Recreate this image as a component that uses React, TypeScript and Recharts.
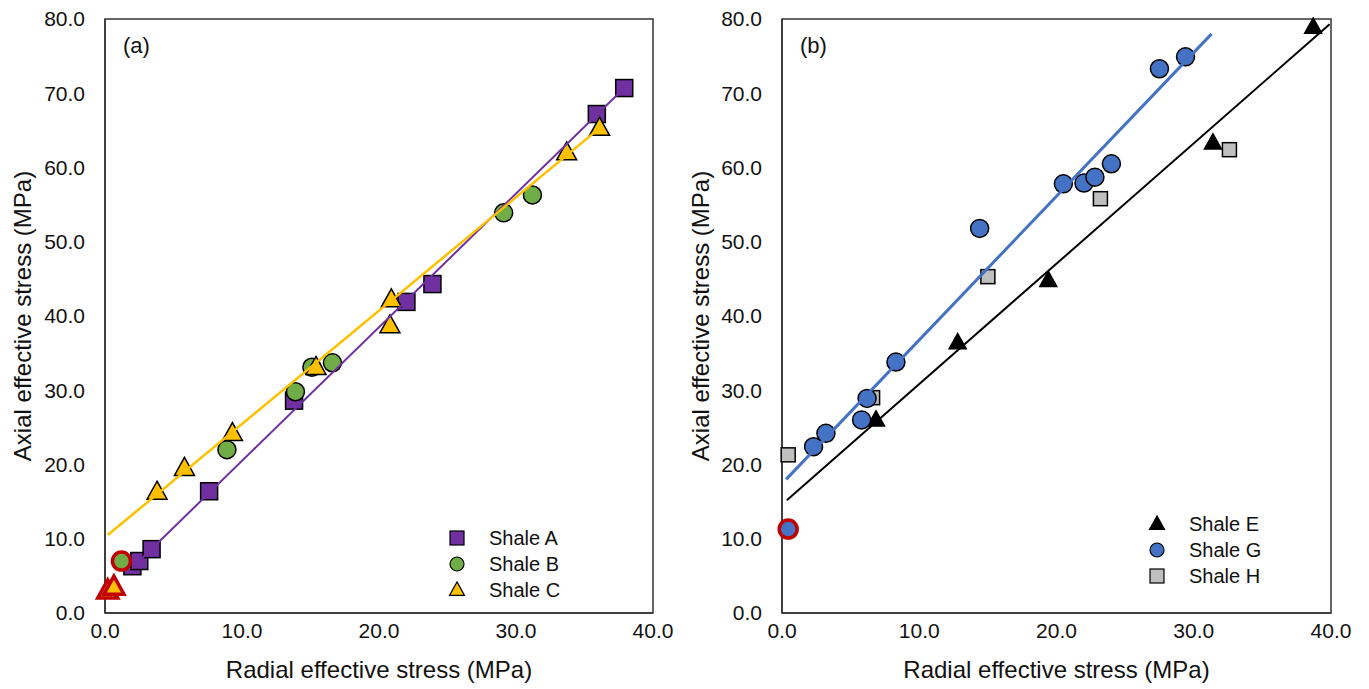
import React from 'react';
import { ScatterChart, Scatter, XAxis, YAxis, ReferenceArea } from 'recharts';

const xTicks = [0, 10, 20, 30, 40];
const yTicks = [0, 10, 20, 30, 40, 50, 60, 70, 80];

// panel (a)
const shaleA = [
  { x: 2.0, y: 6.3 }, { x: 2.5, y: 7.0 }, { x: 3.4, y: 8.6 }, { x: 7.6, y: 16.4 },
  { x: 13.8, y: 28.6 }, { x: 22.0, y: 41.9 }, { x: 23.9, y: 44.3 }, { x: 35.9, y: 67.2 },
  { x: 37.9, y: 70.7 },
];
const shaleB = [
  { x: 8.9, y: 22.0 }, { x: 13.9, y: 29.8 }, { x: 15.1, y: 33.1 }, { x: 16.6, y: 33.7 },
  { x: 29.1, y: 53.9 }, { x: 31.2, y: 56.3 },
];
const shaleBRed = [{ x: 1.2, y: 7.0 }];
const shaleC = [
  { x: 3.8, y: 16.3 }, { x: 5.8, y: 19.5 }, { x: 9.3, y: 24.2 }, { x: 15.4, y: 33.1 },
  { x: 20.8, y: 38.7 }, { x: 20.9, y: 42.2 }, { x: 33.7, y: 62.0 }, { x: 36.1, y: 65.3 },
];
const shaleCRed = [{ x: 0.2, y: 3.0 }, { x: 0.65, y: 3.5 }];
const fitA = [{ x: 2.5, y: 7.0 }, { x: 37.9, y: 70.7 }];
const fitC = [{ x: 0.2, y: 10.5 }, { x: 36.1, y: 65.3 }];

// panel (b)
const shaleE = [
  { x: 6.85, y: 26.0 }, { x: 12.8, y: 36.4 }, { x: 19.4, y: 44.8 }, { x: 31.4, y: 63.3 },
  { x: 38.7, y: 78.9 },
];
const shaleG = [
  { x: 2.3, y: 22.4 }, { x: 3.2, y: 24.2 }, { x: 5.8, y: 26.0 }, { x: 6.2, y: 28.9 },
  { x: 8.3, y: 33.8 }, { x: 14.4, y: 51.8 }, { x: 20.5, y: 57.8 }, { x: 22.0, y: 57.9 },
  { x: 22.8, y: 58.7 }, { x: 24.0, y: 60.5 }, { x: 27.5, y: 73.3 }, { x: 29.4, y: 74.9 },
];
const shaleGRed = [{ x: 0.45, y: 11.3 }];
const shaleH = [
  { x: 0.45, y: 21.3 }, { x: 6.6, y: 29.0 }, { x: 15.0, y: 45.3 }, { x: 23.2, y: 55.8 },
  { x: 32.6, y: 62.4 },
];
const fitG = [{ x: 0.3, y: 18.0 }, { x: 31.3, y: 78.0 }];
const fitE = [{ x: 0.35, y: 15.2 }, { x: 39.9, y: 79.3 }];

const legendA = [
  { name: 'Shale A', kind: 'square', fill: '#7030A0' },
  { name: 'Shale B', kind: 'circle', fill: '#70AD47' },
  { name: 'Shale C', kind: 'triangle', fill: '#FFC000' },
];
const legendB = [
  { name: 'Shale E', kind: 'triangle', fill: '#000000' },
  { name: 'Shale G', kind: 'circle', fill: '#4472C4' },
  { name: 'Shale H', kind: 'square', fill: '#BFBFBF' },
];

const FONT = '"Liberation Sans", Arial, sans-serif';
const AXIS = '#333333';
const TEXT = '#111111';

type MarkerProps = {
  kind: string;
  cx: number;
  cy: number;
  size: number;
  fill: string;
  stroke?: string;
  strokeWidth?: number;
};

const Marker = ({ kind, cx, cy, size, fill, stroke = '#000', strokeWidth = 1.5 }: MarkerProps) => {
  const h = size / 2;
  if (kind === 'square') {
    return <rect x={cx - h} y={cy - h} width={size} height={size} fill={fill} stroke={stroke} strokeWidth={strokeWidth} />;
  }
  if (kind === 'circle') {
    return <circle cx={cx} cy={cy} r={h} fill={fill} stroke={stroke} strokeWidth={strokeWidth} />;
  }
  const th = size * 0.9;
  const pts = `${cx},${cy - th * 0.6} ${cx + h},${cy + th * 0.4} ${cx - h},${cy + th * 0.4}`;
  return <polygon points={pts} fill={fill} stroke={stroke} strokeWidth={strokeWidth} />;
};

const shapeOf = (kind: string, size: number, fill: string, stroke?: string, strokeWidth?: number) =>
  (p: any) => <Marker kind={kind} cx={p.cx} cy={p.cy} size={size} fill={fill} stroke={stroke} strokeWidth={strokeWidth} />;

const noDot = () => <g />;

const LegendBox = ({ items, left, top }: { items: typeof legendA; left: number; top: number }) => (
  <div style={{ position: 'absolute', left, top, fontFamily: FONT, fontSize: 20, color: TEXT }}>
    {items.map((it) => (
      <div key={it.name} style={{ display: 'flex', alignItems: 'center', height: 26 }}>
        <svg width={22} height={22} style={{ marginRight: 21 }}>
          <Marker kind={it.kind} cx={11} cy={11} size={it.kind === 'triangle' ? 15 : 14} fill={it.fill} strokeWidth={1.2} />
        </svg>
        <span>{it.name}</span>
      </div>
    ))}
  </div>
);

const tickFmt = (v: number) => v.toFixed(1);

const Panel = ({ width, yWidth, marginRight, labelX, tag, children }: any) => (
  <ScatterChart width={width} height={689} margin={{ top: 19, right: marginRight, left: 0, bottom: 0 }}>
    <XAxis
      type="number"
      dataKey="x"
      domain={[0, 40]}
      ticks={xTicks}
      tickFormatter={tickFmt}
      height={76}
      tickLine={false}
      tickSize={0}
      tickMargin={10}
      axisLine={{ stroke: AXIS, strokeWidth: 1.5 }}
      tick={{ fontSize: 21, fill: TEXT, fontFamily: FONT }}
      label={{ value: 'Radial effective stress (MPa)', position: 'insideBottom', offset: 11, fontSize: 24, fill: TEXT, fontFamily: FONT }}
    />
    <YAxis
      type="number"
      dataKey="y"
      domain={[0, 80]}
      ticks={yTicks}
      tickFormatter={tickFmt}
      width={yWidth}
      tickLine={false}
      tickSize={0}
      tickMargin={20}
      axisLine={{ stroke: AXIS, strokeWidth: 1.5 }}
      tick={{ fontSize: 21, fill: TEXT, fontFamily: FONT }}
      label={{ value: 'Axial effective stress (MPa)', angle: -90, position: 'insideLeft', offset: labelX, fontSize: 24, fill: TEXT, fontFamily: FONT, style: { textAnchor: 'middle' } }}
    />
    <ReferenceArea x1={0} x2={40} y1={0} y2={80} fill="none" stroke={AXIS} strokeWidth={1.5} ifOverflow="visible"
      label={{ value: tag, position: 'insideTopLeft', offset: 18, fontSize: 22, fill: TEXT, fontFamily: FONT }} />
    {children}
  </ScatterChart>
);

export default function App() {
  return (
    <div style={{ position: 'absolute', left: 0, top: 0, width: 1369, height: 689, background: '#fff' }}>
      <div style={{ position: 'absolute', left: 0, top: 0 }}>
        <Panel width={680} yWidth={105} marginRight={27} labelX={22} tag="(a)">
          <Scatter data={shaleA} isAnimationActive={false} legendType="none" shape={shapeOf('square', 17, '#7030A0')} />
          <Scatter data={shaleB} isAnimationActive={false} legendType="none" shape={shapeOf('circle', 18, '#70AD47')} />
          <Scatter data={shaleBRed} isAnimationActive={false} legendType="none" shape={shapeOf('circle', 18, '#70AD47', '#C00000', 3.5)} />
          <Scatter data={shaleC} isAnimationActive={false} legendType="none" shape={shapeOf('triangle', 20, '#FFC000')} />
          <Scatter data={shaleCRed} isAnimationActive={false} legendType="none" shape={shapeOf('triangle', 20, '#FFC000', '#C00000', 3.5)} />
          <Scatter data={fitA} isAnimationActive={false} legendType="none" line={{ stroke: '#7030A0', strokeWidth: 2 }} shape={noDot} />
          <Scatter data={fitC} isAnimationActive={false} legendType="none" line={{ stroke: '#FFC000', strokeWidth: 2.5 }} shape={noDot} />
        </Panel>
        <LegendBox items={legendA} left={446} top={525} />
      </div>
      <div style={{ position: 'absolute', left: 680, top: 0 }}>
        <Panel width={689} yWidth={102} marginRight={38} labelX={20} tag="(b)">
          <Scatter data={shaleH} isAnimationActive={false} legendType="none" shape={shapeOf('square', 14, '#BFBFBF')} />
          <Scatter data={shaleE} isAnimationActive={false} legendType="none" shape={shapeOf('triangle', 17, '#000000')} />
          <Scatter data={shaleG} isAnimationActive={false} legendType="none" shape={shapeOf('circle', 18, '#4472C4')} />
          <Scatter data={shaleGRed} isAnimationActive={false} legendType="none" shape={shapeOf('circle', 18, '#4472C4', '#C00000', 3.5)} />
          <Scatter data={fitE} isAnimationActive={false} legendType="none" line={{ stroke: '#000000', strokeWidth: 2 }} shape={noDot} />
          <Scatter data={fitG} isAnimationActive={false} legendType="none" line={{ stroke: '#4472C4', strokeWidth: 3 }} shape={noDot} />
        </Panel>
        <LegendBox items={legendB} left={466} top={511} />
      </div>
    </div>
  );
}
